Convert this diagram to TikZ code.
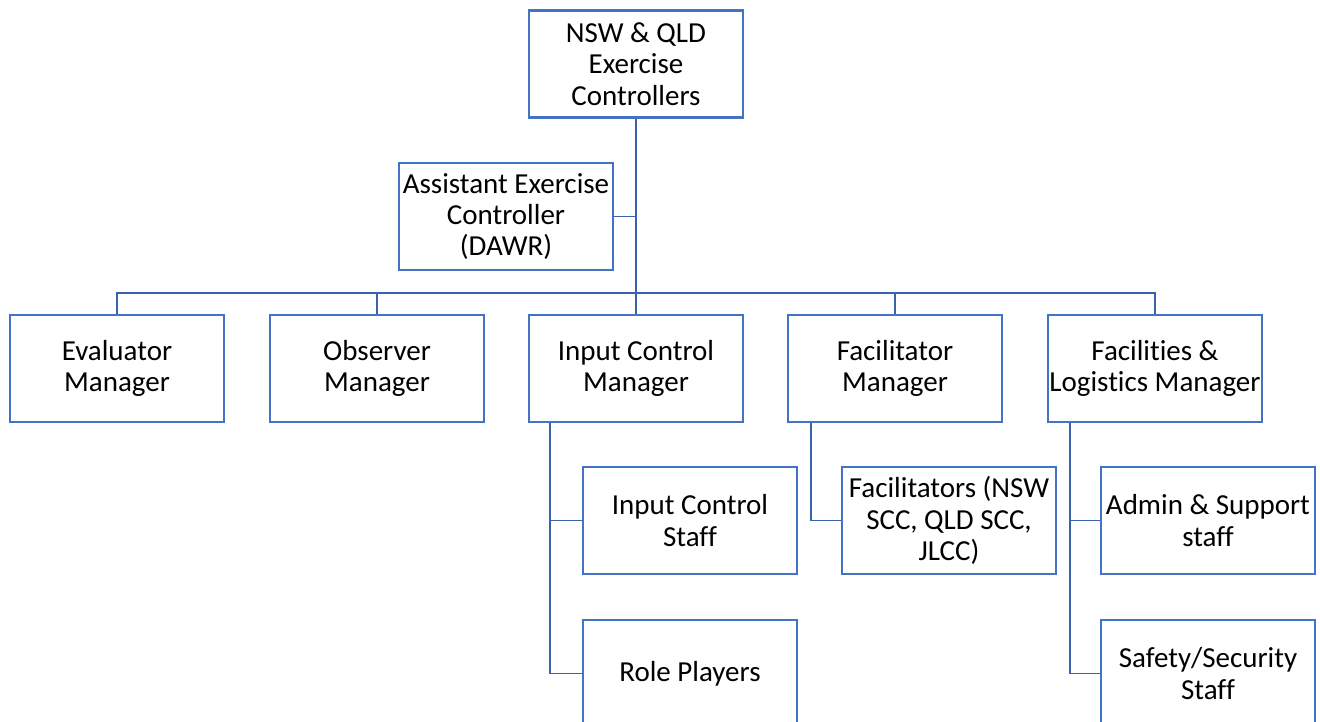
\documentclass[tikz,border=0pt]{standalone}
\usepackage{fontspec}
\setmainfont{Carlito}[RawFeature={-liga}]
\usepackage{tikz}
\definecolor{boxblue}{HTML}{4472C4}
\definecolor{linkblue}{HTML}{3A63AE}

\begin{document}
\begin{tikzpicture}[x=0.02cm, y=-0.02cm,
        role/.style={draw=boxblue, line width=1.2pt, minimum width=4.28cm, minimum height=2.14cm,
                align=center, inner sep=1pt, font=\fontsize{16.5}{17.9}\selectfont},
        link/.style={draw=linkblue, line width=0.9pt}]
        \useasboundingbox (0,0) rectangle (1320,722);
        \node[role] (ctrl) at (636,64) {NSW \& QLD\\Exercise\\Controllers};
        \node[role] (asst) at (506,216.5) {Assistant Exercise\\Controller\\(DAWR)};
        \node[role] (eval) at (117,368.5) {Evaluator\\Manager};
        \node[role] (obs) at (377,368.5) {Observer\\Manager};
        \node[role] (icm) at (636,368.5) {Input Control\\Manager};
        \node[role] (facm) at (895,368.5) {Facilitator\\Manager};
        \node[role] (flm) at (1155,368.5) {Facilities \&\\Logistics Manager};
        \node[role] (ics) at (690,520.5) {Input Control\\Staff};
        \node[role] (rp) at (690,673.5) {Role Players};
        \node[role] (fac) at (949,520.5) {Facilitators (NSW\\SCC, QLD SCC,\\JLCC)};
        \node[role] (adm) at (1208,520.5) {Admin \& Support\\staff};
        \node[role] (saf) at (1208,673.5) {Safety/Security\\Staff};
        \coordinate (bus) at (636,293);
        \draw[link, line width=1.3pt] (ctrl.south) -- (bus);
        \draw[link] (asst.east) -- (asst.east -| ctrl.south);
        \draw[link] (eval.north) |- (bus) -| (flm.north);
        \draw[link] (obs.north) -- (obs.north |- bus);
        \draw[link] (icm.north) -- (bus);
        \draw[link] (facm.north) -- (facm.north |- bus);
        \draw[link] ([xshift=-1.72cm]icm.south) |- (ics.west);
        \draw[link] ([xshift=-1.72cm]icm.south) |- (rp.west);
        \draw[link] ([xshift=-1.68cm]facm.south) |- (fac.west);
        \draw[link] ([xshift=-1.7cm]flm.south) |- (adm.west);
        \draw[link] ([xshift=-1.7cm]flm.south) |- (saf.west);
\end{tikzpicture}
\end{document}
